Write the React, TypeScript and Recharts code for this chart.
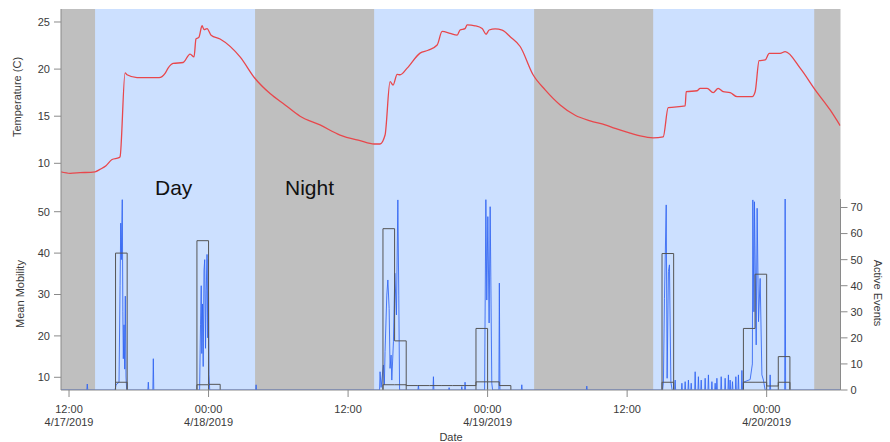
import React from 'react';
import {
  ComposedChart,
  Line,
  XAxis,
  YAxis,
  CartesianGrid,
  ReferenceArea,
} from 'recharts';

// time is in hours since 4/17/2019 00:00
const X_MIN = 11.31;
const X_MAX = 78.35;

const tickHours = [12, 24, 36, 48, 60, 72];
const tickTimes = ['12:00', '00:00', '12:00', '00:00', '12:00', '00:00'];
const tickDates = ['4/17/2019', '4/18/2019', '', '4/19/2019', '', '4/20/2019'];

// light periods
const dayStarts = [14.24, 38.24, 62.24];
const dayEnds = [28.0, 52.0, 76.09];

const tempHours = [
  11.31, 12.09, 12.95, 14.24, 14.67, 15.18, 15.7, 16.3, 16.39, 16.82, 16.99, 17.85,
  19.74, 20.26, 20.52, 20.95, 21.81, 22.41, 22.75, 22.92, 23.18, 23.44, 23.61, 23.87,
  24.22, 24.99, 26.71, 28.0, 29.29, 30.58, 31.87, 33.59, 35.31, 37.03, 38.24, 38.75,
  39.18, 39.61, 39.87, 40.22, 40.47, 41.08, 42.19, 42.88, 43.66, 44.09, 44.77, 45.38,
  45.63, 46.06, 46.24, 46.92, 47.53, 47.87, 48.13, 48.65, 49.25, 49.94, 50.8, 51.91,
  52.95, 54.24, 55.53, 56.82, 58.11, 58.97, 60.26, 61.12, 62.24, 63.1, 63.53, 64.99,
  65.08, 66.02, 66.28, 66.88, 67.4, 67.83, 68.26, 68.86, 69.46, 70.75, 71.01, 71.35,
  71.87, 72.22, 73.16, 73.59, 74.88, 76.17, 77.46, 78.32,
];
const tempValues = [
  9.1, 8.94, 9.0, 9.1, 9.36, 9.74, 10.4, 10.6, 10.7, 19.6, 19.4, 19.1,
  19.1, 19.55, 20.1, 20.6, 20.7, 21.6, 21.3, 23.2, 23.4, 24.6, 24.2, 24.3,
  23.6, 23.2, 21.3, 19.0, 17.4, 16.2, 15.0, 14.07, 13.0, 12.4, 12.05, 12.05,
  13.0, 18.66, 18.3, 19.45, 19.4, 20.1, 21.7, 22.0, 22.56, 24.0, 23.8, 23.6,
  24.15, 24.3, 24.7, 24.6, 24.3, 23.7, 24.15, 24.26, 24.15, 23.44, 22.4, 19.4,
  17.8, 16.2, 15.1, 14.5, 14.07, 13.7, 13.2, 12.9, 12.7, 12.8, 15.9, 16.1,
  17.6, 17.7, 17.96, 17.96, 17.5, 17.96, 17.6, 17.5, 17.07, 17.07, 17.6, 20.9,
  20.97, 21.67, 21.67, 21.85, 20.1, 17.8, 15.66, 14.0,
];

// hourly mean mobility (bin start hour, value)
const mobilityBinHours = [16, 23, 24, 39, 40, 41, 42, 43, 44, 45, 46, 47, 48, 49, 63, 70, 71, 72, 73];
const mobilityBinValues = [40, 43, 8.3, 45.9, 18.8, 8, 8, 8, 8, 8, 8, 21.8, 8.9, 8, 39.9, 21.8, 34.9, 7.9, 15];
const lowBinHours = [16, 23, 39, 40, 47, 63, 70, 71, 73];
const lowBinValues = [8.8, 8.2, 8.2, 8.2, 8.9, 8.8, 8.8, 8.8, 8.8];

// active events [hour, count]
const eventsDay1: [number, number][] = [
  [11.31, 0], [13.53, 0], [13.57, 2.3], [13.61, 0],
  [15.96, 0], [16.04, 2], [16.3, 3], [16.39, 40], [16.45, 64], [16.5, 50], [16.58, 73],
  [16.63, 30], [16.67, 12], [16.73, 25], [16.79, 8], [16.84, 36], [16.9, 5], [16.96, 0],
  [18.78, 0], [18.82, 3], [18.86, 0], [19.21, 0], [19.25, 12], [19.29, 0],
  [23.23, 0], [23.31, 25], [23.37, 40], [23.42, 14], [23.48, 33], [23.54, 9], [23.61, 46],
  [23.67, 50], [23.74, 16], [23.8, 38], [23.87, 52], [23.93, 20], [23.98, 50], [24.04, 6],
  [24.1, 0], [28.05, 0], [28.09, 2], [28.13, 0],
];
const eventsDay2: [number, number][] = [
  [38.71, 0], [38.75, 7], [38.84, 1], [39.04, 9.6], [39.12, 2], [39.18, 14.7], [39.33, 36.4],
  [39.42, 42.2], [39.53, 31.3], [39.61, 8.3], [39.7, 13.4], [39.76, 3.8], [39.9, 18.5],
  [40.02, 44.8], [40.16, 28.8], [40.28, 72.9], [40.36, 36.4], [40.43, 0],
  [42.01, 0], [42.05, 1.9], [42.09, 0], [43.3, 0], [43.34, 5.1], [43.38, 0],
  [44.65, 0], [44.69, 0.9], [44.73, 0], [45.74, 0], [45.78, 1.3], [45.82, 0],
  [46.02, 0], [46.06, 3], [46.1, 0],
  [47.74, 0], [47.85, 73], [47.93, 34.5], [48.02, 66.5], [48.13, 25.7], [48.22, 70.3],
  [48.36, 2.6], [48.43, 0], [48.97, 0], [49.01, 41], [49.06, 0],
  [50.9, 0], [50.94, 2], [50.98, 0], [56.49, 0], [56.53, 1.5], [56.57, 0],
];
const eventsDay3: [number, number][] = [
  [63.05, 0], [63.12, 3], [63.21, 35], [63.36, 71], [63.44, 4.5], [63.55, 45.4], [63.64, 48],
  [63.76, 3.2], [63.87, 0],
  [64.09, 0], [64.13, 3.8], [64.17, 0], [64.67, 0], [64.71, 2.6], [64.75, 0],
  [64.95, 0], [64.99, 3.2], [65.03, 0], [65.23, 0], [65.27, 3.8], [65.31, 0],
  [65.47, 0], [65.51, 2.6], [65.55, 0], [65.81, 0], [65.85, 7], [65.89, 0],
  [66.09, 0], [66.13, 5.1], [66.17, 0], [66.33, 0], [66.37, 3.8], [66.41, 0],
  [66.67, 0], [66.71, 4.5], [66.75, 0], [66.95, 0], [66.99, 5.8], [67.03, 0],
  [67.25, 0], [67.29, 3.2], [67.33, 0], [67.53, 0], [67.57, 2.6], [67.61, 0],
  [67.68, 0], [67.72, 4.5], [67.76, 0], [68.05, 0], [68.09, 5.1], [68.13, 0],
  [68.39, 0], [68.43, 4.5], [68.47, 0], [68.67, 0], [68.71, 5.8], [68.75, 0],
  [68.82, 0], [68.86, 3.8], [68.9, 0], [69.02, 0], [69.06, 3.2], [69.1, 0],
  [69.31, 0], [69.35, 5.1], [69.39, 0], [69.53, 0], [69.57, 5.8], [69.61, 0],
  [69.83, 0], [69.87, 7.5], [69.91, 0],
  [69.96, 0], [70.0, 3], [70.58, 4], [70.77, 10], [70.81, 72.9], [70.9, 30], [70.95, 72.2],
  [71.1, 17.3], [71.18, 69.7], [71.3, 26.2], [71.44, 42.8], [71.59, 5.8], [71.72, 3.8],
  [71.87, 0], [72.26, 0], [72.3, 5.8], [72.34, 0], [73.55, 0], [73.59, 73.3], [73.63, 0],
  [78.35, 0],
];

const TEMP_DOMAIN: [number, number] = [6.21, 26.38];
const MOB_DOMAIN: [number, number] = [6.93, 53.07];
const EVT_DOMAIN: [number, number] = [0, 73.26];

const FONT = '"Liberation Sans", Arial, sans-serif';
const GRAY = '#bfbfbf';
const DAY = '#cce0ff';
const AXIS = '#8a8a8a';
const TEXT = '#3a3a3a';

const tempData = tempHours.map((h, i) => ({ h, v: tempValues[i] }));
const eventData = [...eventsDay1, ...eventsDay2, ...eventsDay3].map(([h, v]) => ({ h, v }));

// turn hourly bins into box outlines
const outline = (hours: number[], values: number[], base: number) => {
  const pts: { h: number; v: number | null }[] = [];
  hours.forEach((h, i) => {
    if (!(i > 0 && hours[i - 1] === h - 1)) pts.push({ h, v: base });
    pts.push({ h, v: values[i] });
    pts.push({ h: h + 1, v: values[i] });
    if (!(i < hours.length - 1 && hours[i + 1] === h + 1)) {
      pts.push({ h: h + 1, v: base });
      pts.push({ h: h + 1, v: null });
    }
  });
  return pts;
};
const mobilityData = outline(mobilityBinHours, mobilityBinValues, MOB_DOMAIN[0]);
const lowData = outline(lowBinHours, lowBinValues, MOB_DOMAIN[0]);

const tickStyle = { fontSize: 11, fill: TEXT, fontFamily: FONT };

const TimeTick = (props: any) => {
  const { x, y, payload } = props;
  const i = tickHours.indexOf(payload.value);
  return (
    <g transform={`translate(${x},${y})`}>
      <text textAnchor="middle" fontSize={11} fill={TEXT} fontFamily={FONT}>
        <tspan x={0} dy={14}>{tickTimes[i]}</tspan>
        {tickDates[i] ? <tspan x={0} dy={12.5}>{tickDates[i]}</tspan> : null}
      </text>
    </g>
  );
};

const Bands = ({ yAxisId }: { yAxisId: string }) => (
  <>
    {dayStarts.map((s, i) => (
      <ReferenceArea
        key={i}
        yAxisId={yAxisId}
        x1={s}
        x2={dayEnds[i]}
        fill={DAY}
        fillOpacity={1}
        stroke="none"
      />
    ))}
  </>
);

const label = (text: string, style: React.CSSProperties) => (
  <div
    style={{
      position: 'absolute',
      fontFamily: FONT,
      color: TEXT,
      whiteSpace: 'nowrap',
      lineHeight: 1,
      ...style,
    }}
  >
    {text}
  </div>
);

export default function App() {
  return (
    <div style={{ position: 'absolute', left: 0, top: 0, width: 890, height: 442, background: '#fff' }}>
      {/* bottom panel: mobility + events */}
      <div style={{ position: 'absolute', left: 0, top: 0 }}>
        <ComposedChart width={890} height={442} margin={{ top: 199, right: 9.5, bottom: 0, left: 11 }}>
          <CartesianGrid horizontal={false} vertical={false} fill={GRAY} fillOpacity={1} />
          <XAxis
            dataKey="h"
            type="number"
            domain={[X_MIN, X_MAX]}
            allowDataOverflow
            ticks={tickHours}
            tick={<TimeTick />}
            tickSize={7}
            tickMargin={2}
            height={52}
            stroke={AXIS}
            interval={0}
          />
          <YAxis
            yAxisId="left"
            type="number"
            domain={MOB_DOMAIN}
            allowDataOverflow
            ticks={[10, 20, 30, 40, 50]}
            tick={tickStyle}
            tickSize={7}
            tickMargin={4}
            width={50}
            stroke={AXIS}
          />
          <YAxis
            yAxisId="right"
            orientation="right"
            type="number"
            domain={EVT_DOMAIN}
            allowDataOverflow
            ticks={[0, 10, 20, 30, 40, 50, 60, 70]}
            tick={tickStyle}
            tickSize={7}
            tickMargin={3}
            width={40}
            stroke={AXIS}
          />
          <Bands yAxisId="left" />
          <Line
            yAxisId="right"
            data={eventData}
            dataKey="v"
            type="linear"
            stroke="#3064f2"
            strokeWidth={1}
            strokeOpacity={0.85}
            dot={false}
            isAnimationActive={false}
          />
          <Line
            yAxisId="left"
            data={lowData}
            dataKey="v"
            type="linear"
            stroke="#555"
            strokeWidth={1}
            dot={false}
            isAnimationActive={false}
          />
          <Line
            yAxisId="left"
            data={mobilityData}
            dataKey="v"
            type="linear"
            stroke="#555"
            strokeWidth={1}
            dot={false}
            isAnimationActive={false}
          />
        </ComposedChart>
      </div>

      {/* top panel: temperature */}
      <div style={{ position: 'absolute', left: 0, top: 0 }}>
        <ComposedChart width={890} height={199} data={tempData} margin={{ top: 9, right: 49.5, bottom: 0, left: 11 }}>
          <CartesianGrid horizontal={false} vertical={false} fill={GRAY} fillOpacity={1} />
          <XAxis dataKey="h" type="number" domain={[X_MIN, X_MAX]} allowDataOverflow hide />
          <YAxis
            yAxisId="temp"
            type="number"
            domain={TEMP_DOMAIN}
            allowDataOverflow
            ticks={[10, 15, 20, 25]}
            tick={tickStyle}
            tickSize={7}
            tickMargin={4}
            width={50}
            stroke={AXIS}
          />
          <Bands yAxisId="temp" />
          <Line
            yAxisId="temp"
            dataKey="v"
            type="monotoneX"
            stroke="#e8474c"
            strokeWidth={1.3}
            dot={false}
            isAnimationActive={false}
          />
        </ComposedChart>
      </div>

      {label('Temperature (C)', { left: 17, top: 97, fontSize: 11, transform: 'translate(-50%,-50%) rotate(-90deg)' })}
      {label('Mean Mobility', { left: 20, top: 294, fontSize: 11, transform: 'translate(-50%,-50%) rotate(-90deg)' })}
      {label('Active Events', { left: 877, top: 293, fontSize: 11, transform: 'translate(-50%,-50%) rotate(90deg)' })}
      {label('Date', { left: 451, top: 437, fontSize: 11, transform: 'translate(-50%,-50%)' })}
      {label('Day', { left: 155, top: 177, fontSize: 21, color: '#111' })}
      {label('Night', { left: 285, top: 177, fontSize: 21, color: '#111' })}
    </div>
  );
}
